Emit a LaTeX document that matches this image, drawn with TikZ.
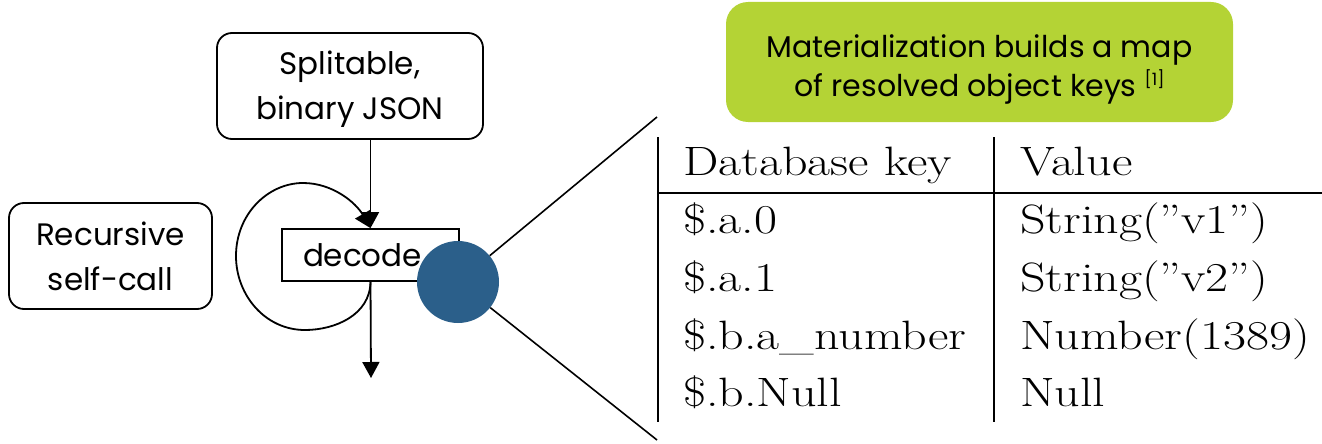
\documentclass[tikz,border=0pt]{standalone}
\usepackage{fontspec}
\newfontfamily\geo{Poppins}
\usetikzlibrary{arrows.meta}
\definecolor{limegreen}{HTML}{B4D335}
\definecolor{steelblue}{HTML}{2B5F8A}
% table entries are set wide
\newcommand{\widecell}[1]{\scalebox{1.22}[1]{#1}}

\begin{document}
\begin{tikzpicture}[x=1pt,y=-1pt,
  box/.style={draw, line width=1.8pt, rounded corners=15pt, inner sep=0pt,
              font=\geo\fontsize{31}{45}\selectfont, align=center},
  codebox/.style={draw, line width=1.8pt, inner sep=0pt,
              font=\geo\fontsize{31}{36}\selectfont},
  callout/.style={fill=limegreen, rounded corners=22pt, inner sep=0pt,
              font=\geo\fontsize{30}{39}\selectfont, align=center},
  dot/.style={circle, fill=steelblue, inner sep=0pt, minimum size=82pt},
  flow/.style={line width=1.8pt, -{Triangle[length=16pt,width=17pt]}},
  zoomline/.style={line width=1.6pt},
  rule/.style={line width=1.3pt},
  cell/.style={anchor=base west, inner sep=0pt, font=\fontsize{41}{50}\selectfont}
]
\useasboundingbox (0,0) rectangle (1322,444);

% input and decoder
\node[box, minimum width=266pt, minimum height=106pt] (spl) at (350,86)
  {\rule{0pt}{30pt}Splitable,\\binary JSON};
\node[box, minimum width=203pt, minimum height=106pt] (rec) at (110.5,256)
  {Recursive\\self-call};
\node[codebox, minimum width=177pt, minimum height=52pt, text width=135pt,
      align=left] (dec) at (370.5,255) {decode};

% flow arrows
\draw[flow] (spl.south -| dec.north) -- (dec.north);
\draw[flow] (dec.south)
  .. controls (370,315) and (335,330) .. (305,330)
  .. controls (265,330) and (236,295) .. (236,256)
  .. controls (236,214) and (268,183) .. (303,183)
  .. controls (333,183) and (356,203) .. (dec.north);
\coordinate (exit) at (371,378);
\draw[flow] (dec.south) -- (exit);

% materialization point and zoom lines
\node[dot] (mat) at (458,282) {};
\coordinate (zt) at (657,117);
\coordinate (zb) at (657,440);
\draw[zoomline] (mat) -- (zt);
\draw[zoomline] (mat) -- (zb);

% callout
\node[callout, minimum width=507pt, minimum height=120pt] (note) at (979.5,62)
  {\rule{0pt}{38pt}Materialization builds a map\\of resolved object keys {\fontsize{17}{17}\selectfont\raisebox{11pt}{[1]}}};

% key/value table
\draw[rule] (658,137) -- (658,422);
\draw[rule] (994,137) -- (994,422);
\draw[rule] (658,193) -- (1322,193);
\node[cell] (h1) at (683,175) {\widecell{Database key}};
\node[cell] (h2) at (1020,175) {\widecell{Value}};
\node[cell] (k1) at (683,233) {\widecell{\$.a.0}};
\node[cell] (v1) at (1020,233) {\widecell{String(”v1”)}};
\node[cell] (k2) at (683,291) {\widecell{\$.a.1}};
\node[cell] (v2) at (1020,291) {\widecell{String(”v2”)}};
\node[cell] (k3) at (683,349) {\widecell{\$.b.a\_number}};
\node[cell] (v3) at (1020,349) {\widecell{Number(1389)}};
\node[cell] (k4) at (683,406) {\widecell{\$.b.Null}};
\node[cell] (v4) at (1020,406) {\widecell{Null}};
\end{tikzpicture}
\end{document}
